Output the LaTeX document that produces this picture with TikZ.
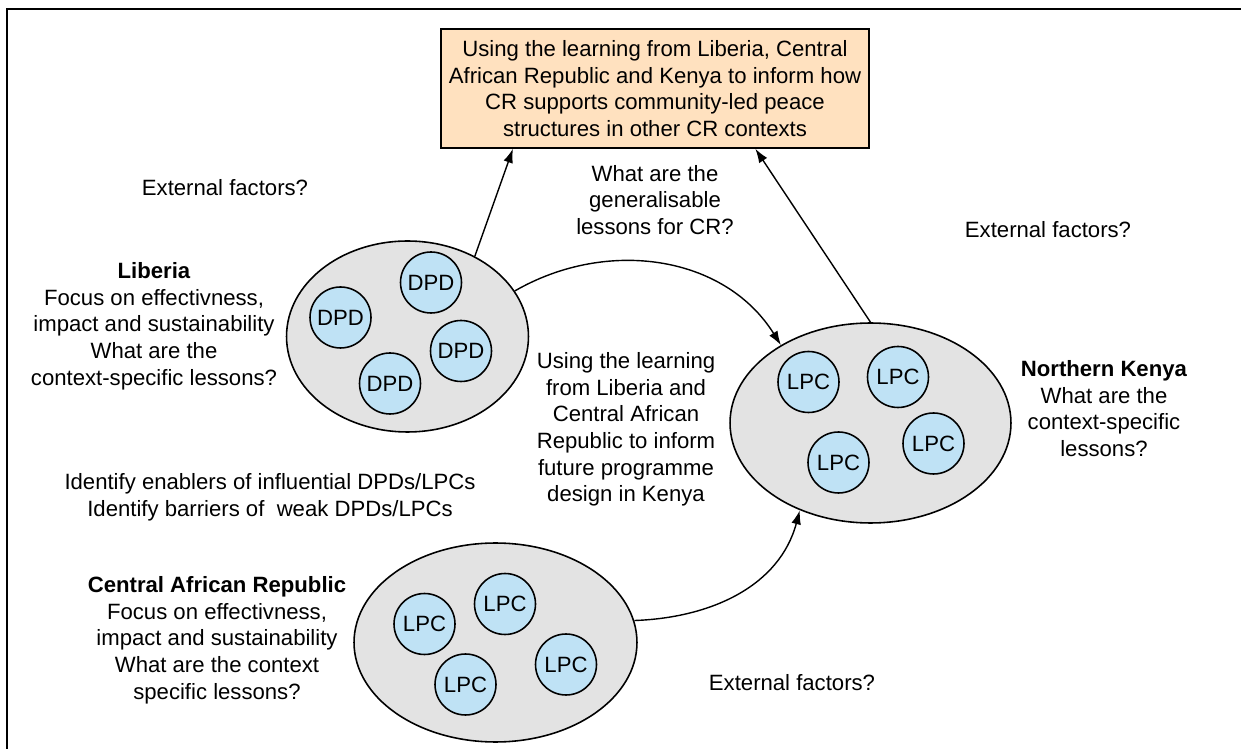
\documentclass[tikz,border=0pt]{standalone}
\usepackage{fontspec}
\setmainfont{Liberation Sans}
\usetikzlibrary{shapes.geometric,arrows.meta}
\definecolor{peach}{HTML}{FFE1BF}
\definecolor{lgray}{HTML}{E3E3E3}
\definecolor{lblue}{HTML}{BFE2F5}

\begin{document}
\begin{tikzpicture}[x=0.02cm,y=-0.02cm,
  every node/.style={font=\fontsize{12.6}{15.2}\selectfont},
  region/.style={ellipse,draw,line width=0.9pt,fill=lgray,inner sep=0pt},
  cttee/.style={circle,draw,line width=0.9pt,fill=lblue,minimum size=1.22cm,inner sep=0pt},
  note/.style={align=center,inner sep=0pt},
  link/.style={line width=0.8pt,-{Latex[length=8pt,width=5.5pt]}}]
  \useasboundingbox (0,0) rectangle (1241,749);
  \draw[line width=1.1pt] (7,749) -- (7,9) -- (1241,9);
  % goal box
  \node[draw,line width=0.9pt,fill=peach,minimum width=8.56cm,minimum height=2.38cm,align=center,inner sep=2pt]
    (goal) at (655,88.5) {Using the learning from Liberia, Central\\African Republic and Kenya to inform how\\CR supports community-led peace\\structures in other CR contexts};
  % regions
  \node[region,minimum width=4.84cm,minimum height=3.82cm] (lib) at (407.5,336.5) {};
  \node[region,minimum width=5.62cm,minimum height=4.0cm] (ken) at (870.5,423) {};
  \node[region,minimum width=5.66cm,minimum height=3.98cm] (car) at (495.5,642.5) {};
  % Liberia DPDs
  \node[cttee] (dpd1) at (431,282.5) {DPD};
  \node[cttee] (dpd2) at (340.5,317.5) {DPD};
  \node[cttee] (dpd3) at (461,351) {DPD};
  \node[cttee] (dpd4) at (390,383.5) {DPD};
  % Kenya LPCs
  \node[cttee] (klpc1) at (808.5,382) {LPC};
  \node[cttee] (klpc2) at (898,377) {LPC};
  \node[cttee] (klpc3) at (838.5,462.5) {LPC};
  \node[cttee] (klpc4) at (933.5,443.5) {LPC};
  % CAR LPCs
  \node[cttee] (clpc1) at (424.5,624) {LPC};
  \node[cttee] (clpc2) at (505,604) {LPC};
  \node[cttee] (clpc3) at (465.5,684.5) {LPC};
  \node[cttee] (clpc4) at (566,664.5) {LPC};
  % texts
  \node[note] (ext1) at (225,188) {External factors?};
  \node[note] (ext2) at (1048,230) {External factors?};
  \node[note] (ext3) at (792,683) {External factors?};
  \node[note] (gen) at (655,200) {What are the\\generalisable\\lessons for CR?};
  \node[note] (libtxt) at (154,326) {\textbf{Liberia}\\Focus on effectivness,\\impact and sustainability\\What are the\\context-specific lessons?};
  \node[note] (kentxt) at (1104,408.5) {\textbf{Northern Kenya}\\What are the\\context-specific\\lessons?};
  \node[note] (cartxt) at (217,640) {\textbf{Central African Republic}\\Focus on effectivness,\\impact and sustainability\\What are the context\\specific lessons?};
  \node[note] (mid) at (626,429.5) {Using the learning\\from Liberia and\\Central African\\Republic to inform\\future programme\\design in Kenya};
  \node[note] (ident) at (270,497.5) {Identify enablers of influential DPDs/LPCs\\Identify barriers of \ weak DPDs/LPCs};
  % arrows
  \draw[link] (lib.50) -- (goal.203.5);
  \draw[link] (ken.north) -- (goal.-31.5);
  \draw[link] (lib.23) to[out=30,in=122] (ken.139);
  \draw[link] (car.9) to[out=2,in=-105] (ken.231);
\end{tikzpicture}
\end{document}
